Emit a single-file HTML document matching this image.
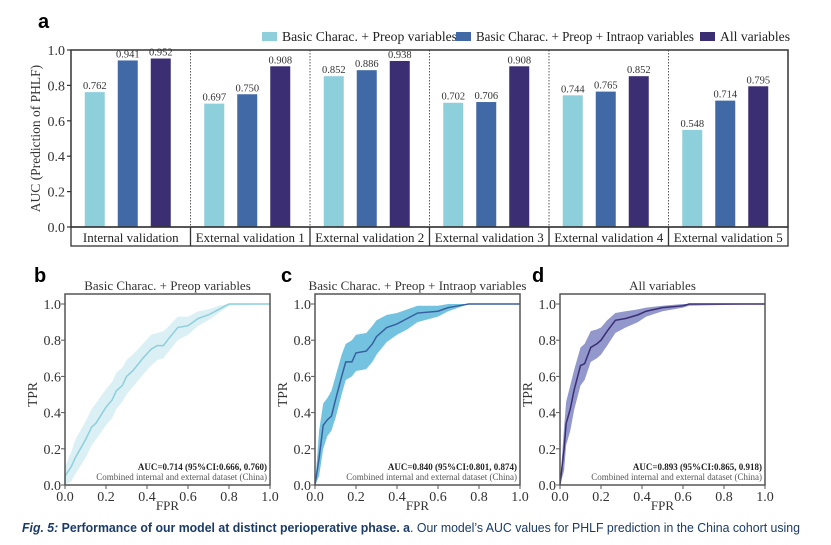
<!DOCTYPE html>
<html><head><meta charset="utf-8"><style>
body{margin:0;background:#fff;width:831px;height:545px;overflow:hidden}
svg{display:block}
</style></head><body>
<svg id="s" width="831" height="545" xmlns="http://www.w3.org/2000/svg" font-family="Liberation Serif, serif">
<text x="38" y="28" font-family="Liberation Sans, sans-serif" font-weight="bold" font-size="20">a</text>
<text x="34" y="282" font-family="Liberation Sans, sans-serif" font-weight="bold" font-size="20">b</text>
<text x="281" y="282" font-family="Liberation Sans, sans-serif" font-weight="bold" font-size="20">c</text>
<text x="532" y="282" font-family="Liberation Sans, sans-serif" font-weight="bold" font-size="20">d</text>
<g id="bar"></g>
<g id="roc"></g>
<text x="22" y="532" font-family="Liberation Sans, sans-serif" font-size="12.5" fill="#1a3a6a" textLength="778" lengthAdjust="spacingAndGlyphs"><tspan font-weight="bold" font-style="italic">Fig. 5:</tspan><tspan font-weight="bold"> Performance of our model at distinct perioperative phase. a</tspan>. Our model’s AUC values for PHLF prediction in the China cohort using</text>
</svg>
<script>
const categories=["Internal validation","External validation 1","External validation 2","External validation 3","External validation 4","External validation 5"];
const seriesNames=["Basic Charac. + Preop variables","Basic Charac. + Preop + Intraop variables","All variables"];
const basicVals=[0.762,0.697,0.852,0.702,0.744,0.548];
const intraVals=[0.941,0.750,0.886,0.706,0.765,0.714];
const allVals=[0.952,0.908,0.938,0.908,0.852,0.795];
const yTicks=[0,0.2,0.4,0.6,0.8,1.0];
const rocTicks=[0,0.2,0.4,0.6,0.8,1.0];
const bFpr=[0,0,.03,.05,.1,.13,.15,.2,.23,.25,.28,.3,.33,.38,.42,.45,.48,.5,.55,.6,.65,.7,.75,.8,1];
const bTpr=[0,.05,.1,.15,.25,.32,.34,.43,.47,.52,.55,.6,.63,.7,.75,.77,.77,.8,.87,.88,.92,.94,.97,1,1];
const bLow=[0,0,.02,.06,.15,.22,.25,.33,.37,.42,.46,.5,.54,.61,.66,.69,.7,.73,.8,.83,.88,.91,.95,.99,1];
const bUp=[0,.1,.18,.25,.35,.42,.45,.53,.57,.62,.65,.69,.72,.78,.83,.84,.85,.87,.93,.93,.96,.97,.99,1,1];
const cFpr=[0,.02,.04,.06,.08,.1,.13,.15,.18,.2,.25,.28,.3,.35,.4,.45,.5,.6,.65,.7,.75,1];
const cTpr=[0,.15,.33,.36,.38,.47,.6,.68,.68,.73,.74,.78,.82,.87,.89,.92,.95,.96,.98,.99,1,1];
const cLow=[0,.05,.2,.27,.3,.37,.5,.58,.6,.63,.64,.68,.72,.79,.83,.86,.9,.93,.96,.98,1,1];
const cUp=[0,.3,.45,.48,.52,.6,.72,.78,.8,.83,.84,.88,.91,.94,.95,.97,.99,.99,1,1,1,1];
const dFpr=[0,.02,.03,.05,.07,.1,.12,.15,.18,.2,.23,.27,.32,.38,.42,.5,.6,.63,1];
const dTpr=[0,.2,.34,.42,.53,.66,.67,.76,.78,.8,.85,.91,.92,.94,.96,.98,.99,1,1];
const dLow=[0,.08,.22,.3,.42,.55,.58,.68,.7,.72,.77,.84,.87,.9,.93,.96,.98,.99,1];
const dUp=[0,.32,.46,.55,.64,.76,.78,.85,.86,.87,.91,.95,.96,.97,.98,.99,1,1,1];
const rocTitles=["Basic Charac. + Preop variables","Basic Charac. + Preop + Intraop variables","All variables"];
const aucTexts=["AUC=0.714 (95%CI:0.666, 0.760)","AUC=0.840 (95%CI:0.801, 0.874)","AUC=0.893 (95%CI:0.865, 0.918)"];

const NS="http://www.w3.org/2000/svg";
function mk(p,t,a,txt){const e=document.createElementNS(NS,t);for(const k in a)e.setAttribute(k,a[k]);if(txt!==undefined)e.textContent=txt;p.appendChild(e);return e;}
const colors=["#8ecfdc","#4169a5","#3c2e73"];
const bar=document.getElementById('bar');
const X0=71,X1=788,Y0=227,Y1=50;
const yS=v=>Y0-(Y0-Y1)*v;
const gw=(X1-X0)/categories.length;
const series=[basicVals,intraVals,allVals];
yTicks.forEach(t=>{
 const tk=mk(bar,'line',{x1:X0-4,x2:X0,y1:yS(t),y2:yS(t),stroke:'#333','stroke-width':1.2});
 
 const l=mk(bar,'text',{x:X0-6,y:yS(t)+5,'text-anchor':'end','font-size':14,fill:'#333'},t.toFixed(1));
 
});
const yt=mk(bar,'text',{transform:`translate(40,${(Y0+Y1)/2}) rotate(-90)`,'text-anchor':'middle','font-size':13.5,fill:'#333'},'AUC (Prediction of PHLF)');

categories.forEach((c,i)=>{
 const gx=X0+gw*i, cx=gx+gw/2;
 if(i>0){const d=mk(bar,'line',{x1:gx,x2:gx,y1:Y1,y2:Y0,stroke:'#555','stroke-dasharray':'1.5,1.5','stroke-width':1});
  
  const s=mk(bar,'line',{x1:gx,x2:gx,y1:Y0,y2:Y0+19,stroke:'#333','stroke-width':1.3});
  }
 const cl=mk(bar,'text',{x:cx,y:Y0+15,'text-anchor':'middle','font-size':13,fill:'#222'},c);
 
 series.forEach((s,j)=>{
  const bx=cx+(j-1)*33-10-3;
  const r=mk(bar,'rect',{x:bx,y:yS(s[i]),width:20,height:Y0-yS(s[i]),fill:colors[j]});
  
  const v=mk(bar,'text',{x:bx+10,y:yS(s[i])-3,'text-anchor':'middle','font-size':10.5,fill:'#333'},s[i].toFixed(3));
  
 });
});
const fr=mk(bar,'rect',{x:X0,y:Y1,width:X1-X0,height:Y0-Y1,fill:'none',stroke:'#333','stroke-width':1.5});

const cb=mk(bar,'rect',{x:X0,y:Y0,width:X1-X0,height:19,fill:'none',stroke:'#333','stroke-width':1.3});

const legX=[262,456,700];
const legW=[175,218,70];
seriesNames.forEach((n,j)=>{
 const g=mk(bar,'g',{});
 mk(g,'rect',{x:legX[j],y:32,width:15,height:9,fill:colors[j]});
 mk(g,'text',{x:legX[j]+20,y:41,'font-size':13.5,fill:'#222',textLength:legW[j],lengthAdjust:'spacingAndGlyphs'},n);
});
const roc=document.getElementById('roc');
const panels=[
 {x0:65,fpr:bFpr,tpr:bTpr,lo:bLow,up:bUp,line:'#8ecfdc',fill:'#d4edf3'},
 {x0:315,fpr:cFpr,tpr:cTpr,lo:cLow,up:cUp,line:'#3a5f9e',fill:'#5ab8da'},
 {x0:560,fpr:dFpr,tpr:dTpr,lo:dLow,up:dUp,line:'#3c2e73',fill:'#7f85c3'}];
const RY0=485,RY1=304,RW=205;
panels.forEach((p,k)=>{
 const g=mk(roc,'g',{});
 const xs=v=>p.x0+RW*v, ys=v=>RY0-(RY0-RY1)*v;
 let up=p.fpr.map((f,i)=>xs(f)+','+ys(p.up[i]));
 let lo=p.fpr.map((f,i)=>xs(f)+','+ys(p.lo[i])).reverse();
 const band=mk(g,'polygon',{points:up.concat(lo).join(' '),fill:p.fill,opacity:0.85});
 
 let d='';p.fpr.forEach((f,i)=>{d+=(i?'L':'M')+xs(f)+','+ys(p.tpr[i]);});
 const ln=mk(g,'path',{d:d,fill:'none',stroke:p.line,'stroke-width':1.5});
 
 const fb=mk(g,'rect',{x:p.x0,y:RY1-10,width:RW,height:RY0-RY1+10,fill:'none',stroke:'#555','stroke-width':1.5});
 
 rocTicks.forEach(t=>{
  const a=mk(g,'line',{x1:p.x0-4,x2:p.x0,y1:ys(t),y2:ys(t),stroke:'#555'});
  const l=mk(g,'text',{x:p.x0-4,y:ys(t)+5,'text-anchor':'end','font-size':14,fill:'#333'},t.toFixed(1));
  
  const b=mk(g,'line',{x1:xs(t),x2:xs(t),y1:RY0,y2:RY0+4,stroke:'#555'});
  const m=mk(g,'text',{x:xs(t),y:RY0+16,'text-anchor':'middle','font-size':14,fill:'#333'},t.toFixed(1));
  
 });
 const xt=mk(g,'text',{x:p.x0+RW/2,y:RY0+25,'text-anchor':'middle','font-size':13,fill:'#333'},'FPR');
 
 const yt2=mk(g,'text',{transform:`translate(${p.x0-28},${(RY0+RY1)/2}) rotate(-90)`,'text-anchor':'middle','font-size':13.5,fill:'#333'},'TPR');
 
 const ti=mk(g,'text',{x:p.x0+RW/2,y:RY1-14,'text-anchor':'middle','font-size':13,fill:'#333'},rocTitles[k]);
 
 const au=mk(g,'text',{x:p.x0+RW-3,y:RY0-15,'text-anchor':'end','font-size':9,'font-weight':'bold',fill:'#222'},aucTexts[k]);
 
 const ds=mk(g,'text',{x:p.x0+RW-3,y:RY0-5,'text-anchor':'end','font-size':9,fill:'#555'},'Combined internal and external dataset (China)');
 
});
</script>
</body></html>
